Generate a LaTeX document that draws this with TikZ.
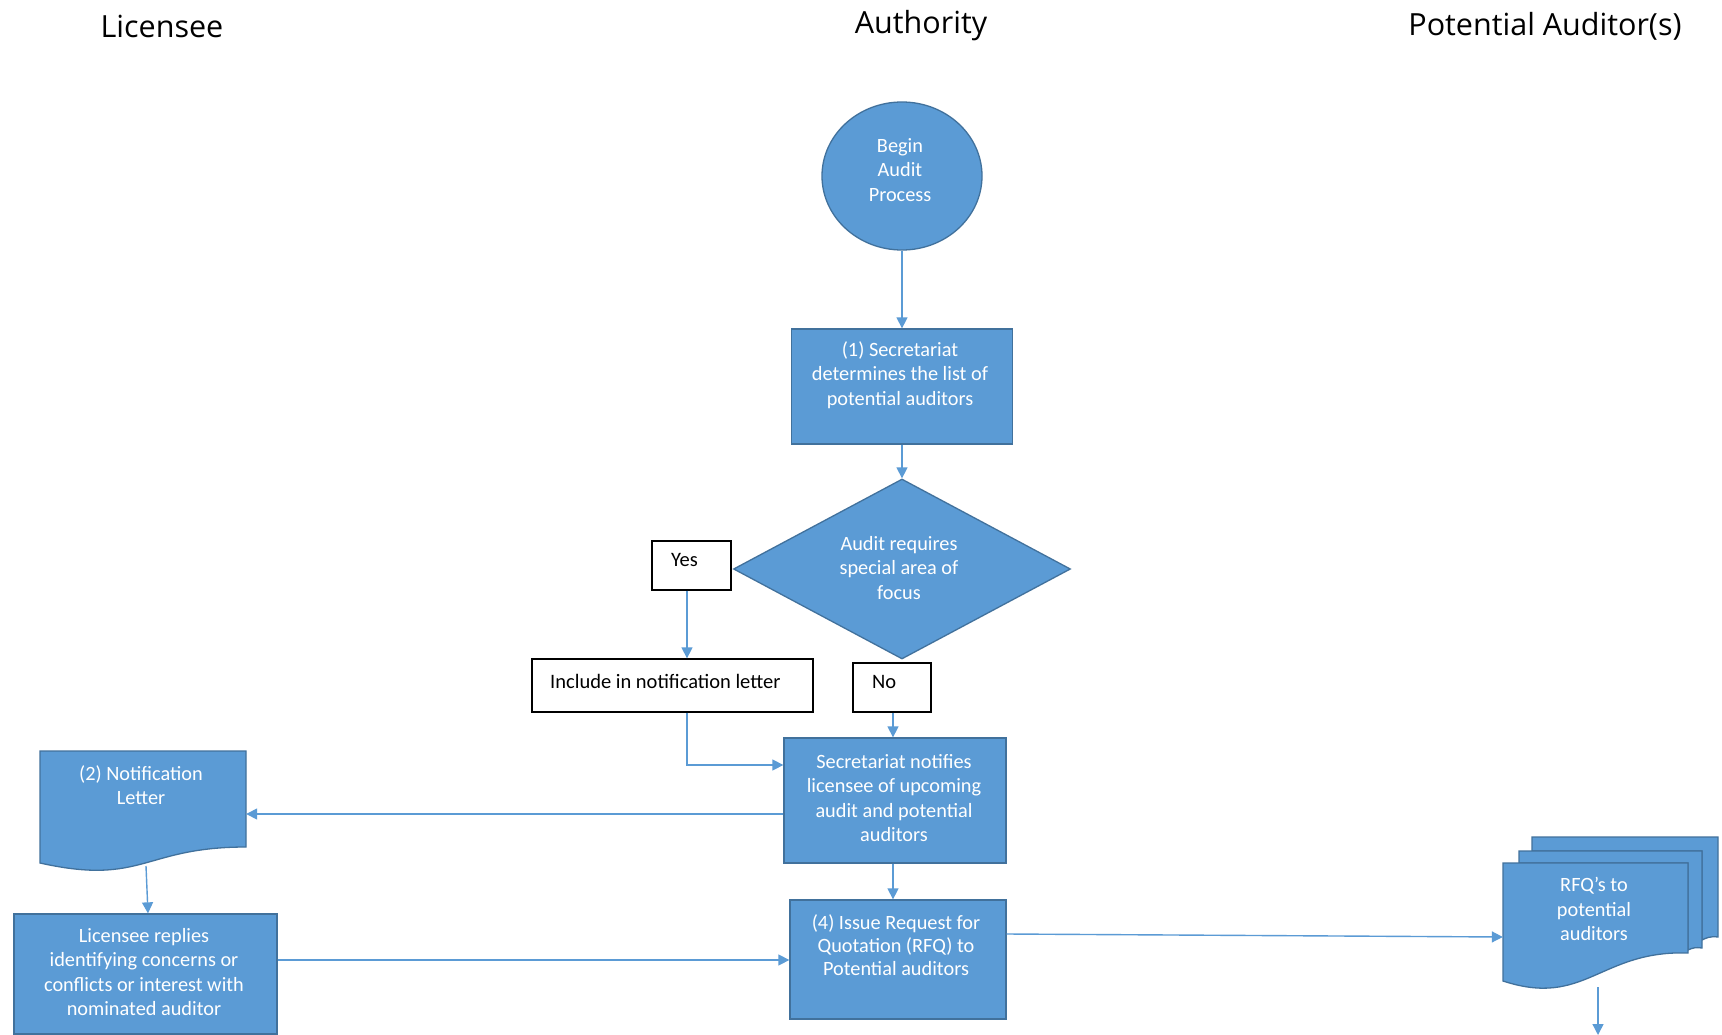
\documentclass[tikz,border=0pt]{standalone}
\usepackage{fontspec}
\setmainfont{Carlito}
\newfontfamily\ttlfont{Open Sans}
\usetikzlibrary{shapes.geometric,arrows.meta}
\definecolor{fillblue}{HTML}{5B9BD5}
\definecolor{edgeblue}{HTML}{41719C}
\definecolor{arrowblue}{HTML}{5B9BD5}
\begin{document}
\begin{tikzpicture}[x=1pt,y=-1pt,
  shp/.style={draw=edgeblue,fill=fillblue,line width=1.3pt,inner sep=0pt},
  wbox/.style={draw=black,fill=white,line width=1.3pt,inner sep=0pt,rectangle},
  wtxt/.style={text=white,font=\fontsize{20.3}{24.6}\selectfont,align=center,inner sep=0pt},
  btxt/.style={text=black,font=\fontsize{20.5}{24}\selectfont,align=left,inner sep=0pt,anchor=west},
  ttl/.style={text=black,font=\ttlfont\fontsize{30.5}{36}\selectfont,inner sep=0pt},
  arr/.style={draw=arrowblue,line width=1.4pt,-{Triangle[length=11pt,width=11pt]}},
  ghost/.style={inner sep=0pt,rectangle}
]
\useasboundingbox[fill=white] (0,0) rectangle (1722,1035);

% titles
\node[ttl] (t1) at (162,26) {Licensee};
\node[ttl] (t2) at (921,26) {Authority};
\node[ttl] (t3) at (1545,26) {Potential Auditor(s)};

% start
\node[shp,ellipse,minimum width=160pt,minimum height=148pt] (circ) at (902,176) {};
\node[wtxt] (circt) at (900,170) {Begin\\Audit\\Process};

% box 1
\node[shp,rectangle,minimum width=221pt,minimum height=115pt] (b1) at (902,386.5) {};
\node[wtxt] (b1t) at (900,375) {(1) Secretariat\\determines the list of\\potential auditors};

% diamond
\node[shp,diamond,minimum width=337pt,minimum height=180pt] (dia) at (902,569) {};
\node[wtxt] (diat) at (899,568) {Audit requires\\special area of\\focus};

% yes / no / include
\node[wbox,minimum width=79pt,minimum height=49pt] (yes) at (691.5,565.5) {};
\node[btxt] (yest) at (671,560) {Yes};
\node[wbox,minimum width=281pt,minimum height=53pt] (incl) at (672.5,685.5) {};
\node[btxt] (inclt) at (550,681) {Include in notification letter};
\node[wbox,minimum width=78pt,minimum height=49pt] (no) at (892,687.5) {};
\node[btxt] (not) at (872,682) {No};

% notify
\node[shp,rectangle,minimum width=222pt,minimum height=125pt] (notify) at (895,800.5) {};
\node[wtxt] (notifyt) at (894,798) {Secretariat notifies\\licensee of upcoming\\audit and potential\\auditors};

% issue RFQ
\node[shp,rectangle,minimum width=216pt,minimum height=119pt] (issue) at (898,959.5) {};
\node[wtxt,font=\fontsize{20.3}{23}\selectfont] (issuet) at (896,945) {(4) Issue Request for\\Quotation (RFQ) to\\Potential auditors};

% notification letter (document shape)
\draw[shp] (40,751) -- (246,751) -- (246,847) .. controls (143,847) and (143,886) .. (40,863) -- cycle;
\node[ghost,minimum width=206pt,minimum height=117pt] (letter) at (143,809.5) {};
\node[wtxt] (lettert) at (141,785) {(2) Notification\\Letter};
\coordinate (letterbot) at (146,866);

% licensee replies
\node[shp,rectangle,minimum width=263pt,minimum height=120pt] (reply) at (145.5,974) {};
\node[wtxt] (replyt) at (144,972) {Licensee replies\\identifying concerns or\\conflicts or interest with\\nominated auditor};

% RFQ multi document
\draw[shp] (1532,837) -- (1718,837) -- (1718,937) .. controls (1710,936) and (1706,938) .. (1702,940) -- (1702,851) -- (1532,851) -- cycle;
\draw[shp] (1519,851) -- (1702,851) -- (1702,948) .. controls (1696,947) and (1692,948) .. (1688,950) -- (1688,863) -- (1519,863) -- cycle;
\draw[shp] (1503,863) -- (1688,863) -- (1688,953) .. controls (1600,950) and (1585,1008) .. (1503,981) -- cycle;
\node[ghost,minimum width=185pt,minimum height=124pt] (rfq) at (1595.5,925) {};
\node[wtxt] (rfqt) at (1594,909) {RFQ’s to\\potential\\auditors};
\coordinate (rfqout) at (1598,987);
\coordinate (rfqend) at (1598,1035);

% connectors
\draw[arr] (circ.south) -- (b1.north);
\draw[arr] (b1.south) -- (dia.north);
\draw[arr] ([xshift=-4.5pt]yes.south) -- ([xshift=14.5pt]incl.north);
\draw[arr] ([xshift=1pt]no.south) -- ([xshift=1pt]no.south |- notify.north);
\draw[arr] ([xshift=14.5pt]incl.south) |- ([yshift=35.5pt]notify.west);
\draw[arr] ([yshift=-13.5pt]notify.west) -- ([yshift=-13.5pt]notify.west -| letter.east);
\draw[arr] (letterbot) -- (reply.north -| 148,0);
\draw[arr] ([yshift=14pt]reply.east) -- ([yshift=14pt]reply.east -| issue.west);
\draw[arr] ([xshift=-2pt]notify.south) -- ([xshift=-2pt]notify.south |- issue.north);
\draw[arr] ([yshift=25.5pt]issue.east) -- (rfq.west |- 0,937);
\draw[arr] (rfqout) -- (rfqend);
\end{tikzpicture}
\end{document}
